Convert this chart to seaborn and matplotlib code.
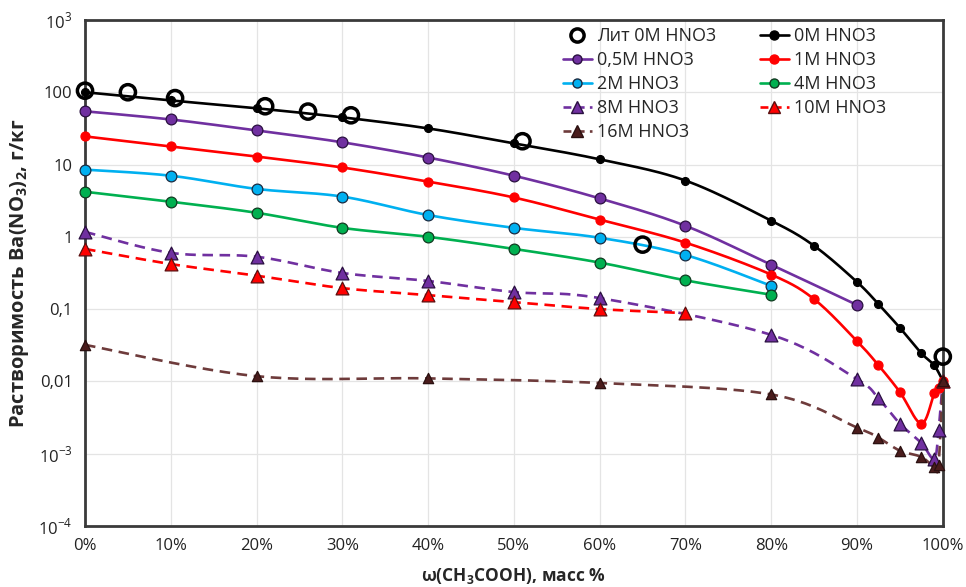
import matplotlib
matplotlib.use('agg')
import matplotlib.pyplot as plt
from matplotlib.lines import Line2D
import seaborn as sns
import numpy as np

# literature data, 0M HNO3 (open circles)
lit_x = [0, 5, 10.5, 21, 26, 31, 51, 65, 100]
lit_y = [105, 100, 83, 64, 54, 48, 21, 0.78, 0.022]

x_0M = [0, 10, 20, 30, 40, 50, 60, 70, 80, 85, 90, 92.5, 95, 97.5, 99, 100]
y_0M = [100, 77, 60, 45, 31.6, 19.6, 11.8, 6.0, 1.67, 0.75, 0.237, 0.117, 0.055, 0.0245, 0.0166, 0.0102]

x_05M = [0, 10, 20, 30, 40, 50, 60, 70, 80, 90]
y_05M = [54.5, 42, 29.6, 20.3, 12.5, 7.0, 3.4, 1.42, 0.41, 0.114]

x_1M = [0, 10, 20, 30, 40, 50, 60, 70, 80, 85, 90, 92.5, 95, 97.5, 99, 99.5, 100]
y_1M = [24.5, 17.8, 12.9, 9.1, 5.8, 3.5, 1.73, 0.83, 0.30, 0.137, 0.036, 0.0167,
        0.0071, 0.0026, 0.0068, 0.0080, 0.0102]

x_2M = [0, 10, 20, 30, 40, 50, 60, 70, 80]
y_2M = [8.5, 7.0, 4.6, 3.6, 2.0, 1.33, 0.97, 0.56, 0.21]

x_4M = [0, 10, 20, 30, 40, 50, 60, 70, 80]
y_4M = [4.2, 3.06, 2.15, 1.33, 1.0, 0.68, 0.44, 0.25, 0.158]

x_8M = [0, 10, 20, 30, 40, 50, 60, 80, 90, 92.5, 95, 97.5, 99, 99.5, 100]
y_8M = [1.17, 0.6, 0.53, 0.316, 0.245, 0.172, 0.142, 0.044, 0.0107, 0.0058,
        0.0026, 0.0014, 0.00085, 0.0021, 0.0102]

# nan = no line drawn between 70% and 100%
x_10M = [0, 10, 20, 30, 40, 50, 60, 70, 80, 100]
y_10M = [0.68, 0.42, 0.29, 0.195, 0.156, 0.125, 0.1, 0.088, np.nan, 0.0102]

x_16M = [0, 20, 40, 60, 80, 90, 92.5, 95, 97.5, 99, 99.5, 100]
y_16M = [0.032, 0.0118, 0.011, 0.0095, 0.0066, 0.0023, 0.00166, 0.0011,
         0.0009, 0.00065, 0.0007, 0.0102]

sns.set_theme(style="whitegrid")
plt.rcParams['font.family'] = ['Open Sans', 'DejaVu Sans']
plt.rcParams['mathtext.fontset'] = 'custom'
plt.rcParams['mathtext.rm'] = 'Open Sans'
plt.rcParams['mathtext.bf'] = 'Open Sans:bold'


def smooth(xs, ys, n=24):
    # excel-like smoothed line, done in screen-like units (x %, log10 y)
    px = np.asarray(xs, float) * 8.58
    py = np.log10(np.asarray(ys, float)) * 72.0
    if len(px) < 3:
        return xs, ys
    P = np.column_stack([px, py])
    out = [P[0]]
    for i in range(len(P) - 1):
        p0 = P[i - 1] if i > 0 else P[i]
        p1, p2 = P[i], P[i + 1]
        p3 = P[i + 2] if i + 2 < len(P) else P[i + 1]
        c1 = p1 + (p2 - p0) / 6.0
        c2 = p2 - (p3 - p1) / 6.0
        t = np.linspace(0, 1, n)[1:, None]
        seg = ((1 - t) ** 3) * p1 + 3 * ((1 - t) ** 2) * t * c1 + 3 * (1 - t) * t ** 2 * c2 + t ** 3 * p2
        out.extend(seg)
    out = np.array(out)
    return out[:, 0] / 8.58, 10 ** (out[:, 1] / 72.0)


fig, ax = plt.subplots(figsize=(9.66, 5.87), dpi=100)
fig.subplots_adjust(left=0.088, right=0.976, top=0.966, bottom=0.104)

series = [
    # label, x, y, line color, ls, marker, size, face, edge
    ("0M HNO3", x_0M, y_0M, "black", "-", "o", 32, "black", "black"),
    ("0,5M HNO3", x_05M, y_05M, "#7030A0", "-", "o", 60, "#7030A0", "#2A1040"),
    ("1M HNO3", x_1M, y_1M, "#FF0000", "-", "o", 42, "#FF0000", "#FF0000"),
    ("2M HNO3", x_2M, y_2M, "#00B0F0", "-", "o", 60, "#00B0F0", "#1A2A40"),
    ("4M HNO3", x_4M, y_4M, "#00B050", "-", "o", 60, "#00B050", "#103A20"),
    ("8M HNO3", x_8M, y_8M, "#7030A0", "--", "^", 85, "#7030A0", "#2A1040"),
    ("10M HNO3", x_10M, y_10M, "#FF0000", "--", "^", 85, "#FF0000", "#5A1010"),
    ("16M HNO3", x_16M, y_16M, "#6E3B3B", "--", "^", 55, "#4A1C1C", "#2A1010"),
]

handles = {}
for label, xs, ys, col, ls, mk, s, fc, ec in series:
    xs = np.asarray(xs, float)
    ys = np.asarray(ys, float)
    ok = ~np.isnan(ys)
    # split into runs without nan
    breaks = np.where(~ok)[0]
    start = 0
    for b in list(breaks) + [len(ys)]:
        sx, sy = xs[start:b], ys[start:b]
        if len(sx) > 1:
            lx, ly = smooth(sx, sy)
            ax.plot(lx, ly, color=col, lw=1.9, ls=ls, dashes=(4, 2.5) if ls == "--" else (None, None),
                    zorder=2, clip_on=False)
        start = b + 1
    sns.scatterplot(x=xs[ok], y=ys[ok], ax=ax, marker=mk, s=s, color=fc,
                    edgecolor=ec, linewidth=0.9, zorder=3, clip_on=False)
    handles[label] = Line2D([], [], color=col, lw=1.9, ls=ls, marker=mk,
                            markersize=6.5 if mk == "o" else 8, markerfacecolor=fc,
                            markeredgecolor=ec, dashes=(3, 2) if ls == "--" else (None, None))

sns.scatterplot(x=lit_x, y=lit_y, ax=ax, marker="o", s=120, facecolor="none",
                edgecolor="black", linewidth=2.5, zorder=4, clip_on=False)
handles["Лит 0M HNO3"] = Line2D([], [], ls="none", marker="o", markersize=9.5,
                                markerfacecolor="none", markeredgecolor="black", markeredgewidth=2.5)

ax.set_yscale("log")
ax.set_xlim(0, 100)
ax.set_ylim(1e-4, 1e3)
ax.set_xticks(range(0, 101, 10))
ax.set_xticklabels([f"{v}%" for v in range(0, 101, 10)])
ax.set_yticks([1e-4, 1e-3, 1e-2, 1e-1, 1, 10, 100, 1e3])
ax.set_yticklabels(["10$^{-4}$", "10$^{-3}$", "0,01", "0,1", "1", "10", "100", "10$^{3}$"])
ax.minorticks_off()
ax.tick_params(axis="both", labelsize=12, colors="#222222", length=0, pad=9)
ax.grid(True, color="#E4E4E4", lw=0.9)
for sp in ax.spines.values():
    sp.set_color("#3A3A3A")
    sp.set_linewidth(2.0)
    sp.set_zorder(2.5)

ax.set_xlabel("ω(CH$_\\mathbf{3}$COOH), масс %", fontsize=12.5, fontweight="bold", labelpad=8)
ax.set_ylabel("Растворимость Ba(NO$_\\mathbf{3}$)$_\\mathbf{2}$, г/кг", fontsize=14.5,
              fontweight="bold", labelpad=5)

order = ["Лит 0M HNO3", "0,5M HNO3", "2M HNO3", "8M HNO3", "16M HNO3",
         "0M HNO3", "1M HNO3", "4M HNO3", "10M HNO3"]
ax.legend([handles[k] for k in order], order, ncol=2, frameon=False,
          loc="upper left", bbox_to_anchor=(0.538, 1.018), fontsize=13,
          handlelength=1.6, handletextpad=0.3, columnspacing=2.4, labelspacing=0.33)

fig.savefig("out.png", dpi=100)
plt.close()
